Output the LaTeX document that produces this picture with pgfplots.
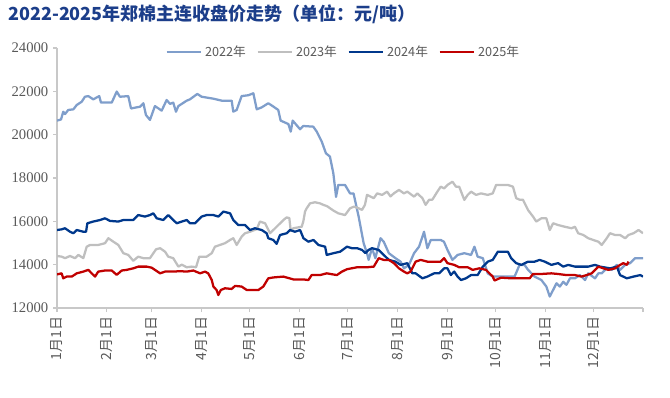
\documentclass[border=0pt]{standalone}
\usepackage{pgfplots}
\pgfplotsset{compat=1.18}
\usepackage{fontspec}
\setmainfont{Liberation Serif}
\newfontfamily\cjk{Noto Sans CJK SC}
\definecolor{c22}{RGB}{127,158,203}
\definecolor{c23}{RGB}{191,191,191}
\definecolor{c24}{RGB}{0,56,140}
\definecolor{c25}{RGB}{192,0,0}
\definecolor{titleblue}{RGB}{28,62,138}
\definecolor{txt}{RGB}{89,89,89}
\definecolor{axl}{RGB}{200,200,200}
\begin{document}
\begin{tikzpicture}
\useasboundingbox (0,0) rectangle (502.5pt,297.75pt);
\node[anchor=west, text=titleblue, font=\cjk\bfseries\fontsize{13.5}{14}\selectfont, inner sep=0pt] at (6pt,287.25pt) {2022-2025年郑棉主连收盘价走势（单位：元/吨）};
\begin{axis}[
  at={(42.75pt,66.75pt)}, anchor=south west,
  width=439.5pt, height=195pt, scale only axis,
  xmin=0, xmax=365, ymin=12000, ymax=24000,
  axis x line*=bottom, axis y line*=left,
  axis line style={draw=axl, line width=0.8pt},
  tick style={draw=axl, line width=0.8pt},
  tick align=outside, major tick length=3pt,
  scaled y ticks=false, scaled x ticks=false,
  xtick={0,31,59,90,120,151,181,212,243,273,304,334,365},
  xticklabels={1月1日,2月1日,3月1日,4月1日,5月1日,6月1日,7月1日,8月1日,9月1日,10月1日,11月1日,12月1日,{}},
  x tick label style={rotate=90, anchor=east, font=\cjk\fontsize{10.5}{11}\selectfont, text=txt},
  ytick={12000,14000,16000,18000,20000,22000,24000},
  yticklabels={12000,14000,16000,18000,20000,22000,24000},
  y tick label style={font=\fontsize{11}{12}\selectfont, text=txt},
  /pgf/number format/assume math mode=true,
  legend columns=4,
  legend style={at={(0.489,0.985)}, anchor=center, draw=none, fill=none,
    font=\cjk\fontsize{9.5}{10}\selectfont, text=txt,
    /tikz/every even column/.append style={column sep=6pt}},
  legend image code/.code={\draw[#1] (0pt,0pt) -- (26pt,0pt);},
  every axis plot/.append style={line width=1.7pt, line join=round, mark=none},
]
\addplot[c22] coordinates {
(0,20650) (2.5,20700) (3.9,21060) (5,20950) (7,21140) (10.2,21170) (12.3,21370) (15.4,21520) (17.4,21750) (19.5,21780)
(22.6,21630) (26.3,21780) (27.4,21480) (34.1,21480) (37.2,21990) (39.2,21750) (44.4,21780) (46.1,21210) (51.7,21290)
(53.8,21450) (55.4,20910) (57.9,20680) (61,21320) (65.2,21110) (68.3,21600) (70.4,21420) (72.4,21480) (74.1,21060)
(75.6,21320) (80.8,21570) (82.8,21630) (87.4,21880) (90.1,21750) (97.4,21660) (102.6,21570) (108.8,21570) (109.8,21060)
(111.9,21140) (115,21780) (119.2,21820) (122.3,21910) (124.4,21170) (127.5,21260) (131.6,21450) (134.7,21300) (137.8,21140)
(139.3,20650) (144.1,20490) (145.6,20140) (146.8,20650) (151.4,20250) (153.4,20400) (159.6,20370) (161.8,20140) (164.9,19680)
(167.5,19140) (170,18990) (172.1,18220) (173.1,17600) (173.8,17130) (175.2,17680) (179.4,17680) (182.5,17290) (184.7,17290)
(187.9,16210) (191,14990) (193.1,14530) (194.1,14220) (196.2,14760) (198.3,14300) (201.5,15220) (203.5,15060) (206.7,14530)
(210.8,14300) (214,14140) (216.1,13830) (219.2,13990) (222.4,14530) (225.5,14830) (227.6,15290) (228.6,15520) (230.7,14760)
(232.8,15140) (239,15140) (241,15060) (243.2,14680) (246.3,14220) (249.5,14450) (253.7,14530) (257.9,14450) (260,14830)
(262,14370) (265.2,14300) (268.3,13600) (271.4,13450) (285,13450) (288.1,13990) (291.2,13990) (293.4,13760) (297.5,13450)
(301.7,13290) (304.8,12990) (306.9,12530) (309,12830) (311.1,13140) (313.2,12990) (315.3,13210) (317.3,13070) (319.5,13370)
(322.6,13370) (325.7,13520) (328.9,13290) (330.9,13600) (335.1,13370) (337.2,13600) (339.3,13600) (342.4,13830) (345.6,13760)
(348.7,13990) (350.7,13760) (353.9,13990) (357,14070) (360.1,14300) (363.3,14300) (365,14300)
};
\addlegendentry{2022年}
\addplot[c23] coordinates {
(0,14400) (2.9,14370) (5,14300) (8.1,14400) (11.2,14300) (13.3,14450) (16.4,14300) (18.5,14830) (20.6,14910) (25.7,14910)
(29.9,14990) (32,15220) (35.1,15060) (38.2,14910) (41.3,14530) (44.4,14450) (47.5,14180) (50.6,14370) (53.8,14300) (57.9,14300)
(61.7,14710) (64.2,14760) (67.3,14600) (69.3,14370) (72.4,14300) (75.6,13910) (77.7,14000) (80.8,13880) (83.9,13910) (86.6,13880)
(88.6,14370) (93.2,14370) (96.4,14530) (98.4,14830) (101.5,14910) (104.6,14990) (107.8,15140) (109.8,15220) (111.9,14910)
(115,15290) (117.1,15450) (120.2,15520) (124.4,15640) (126.4,15990) (129.6,15910) (132.7,15450) (136.8,15750) (141,16060)
(143,16180) (144.7,16150) (145.6,15560) (147.2,15680) (152.4,15750) (153.4,15990) (154.5,16450) (155.5,16600) (157.6,16830)
(160.7,16880) (163.8,16830) (165.9,16760) (168.2,16700) (172.1,16500) (175.2,16370) (179.4,16290) (182.5,16600) (185,16680)
(187.9,16600) (190,16530) (191.8,16760) (193.1,17220) (197.3,17070) (199.4,17290) (202.5,17220) (205.6,17370) (207.7,17150)
(209.8,17290) (213,17450) (216.1,17290) (218.2,17370) (222.4,17140) (224.4,17290) (227.6,17070) (229.6,16760) (231.8,17000)
(233.8,17000) (236.9,17370) (239,17600) (241.1,17520) (243.2,17680) (246.3,17830) (248.5,17600) (250.5,17600) (253.7,16990)
(255.8,17220) (257.9,17370) (261,17220) (264.1,17290) (268.3,17220) (271.4,17290) (273.5,17680) (280.8,17680) (284,17600)
(286,17070) (288.1,17000) (290.2,17000) (293.4,16520) (296.5,16220) (298.5,15990) (301.7,16140) (304.8,16140) (306.9,15600)
(309,15910) (312.1,15830) (316.3,15750) (320.5,15680) (322.6,15750) (324.6,15450) (327.8,15370) (330.9,15220) (334,15140)
(337.2,15060) (339.3,14910) (342.4,15220) (344.4,15450) (347.6,15370) (350.7,15370) (353.9,15220) (355.9,15370) (359.1,15450)
(362.2,15600) (365,15450)
};
\addlegendentry{2023年}
\addplot[c24] coordinates {
(0,15600) (2.9,15630) (5,15680) (8.1,15520) (10.2,15450) (12.3,15600) (16.4,15520) (18.1,15520) (18.9,15910) (22.6,15990)
(26.8,16060) (29.9,16140) (33,16020) (38.2,15990) (41.3,16060) (47.5,16060) (50.6,16290) (54.8,16220) (57.9,16290) (60,16370)
(62.1,16140) (66.2,16060) (69.3,16290) (72.4,16060) (74.6,15910) (77.7,15990) (80.8,16060) (82.8,15910) (86,15910) (90.1,16220)
(93.2,16290) (97.4,16290) (100.5,16220) (103.6,16450) (107.8,16370) (109.8,16060) (112.9,15830) (117.1,15830) (120.2,15600)
(123.3,15680) (127.5,15600) (130.6,15450) (131.6,15220) (134.7,15140) (136.8,14960) (138.9,15370) (143.1,15450) (145.1,15600)
(148.2,15520) (151.4,15600) (153.5,15220) (156.6,15060) (159.7,15140) (162.8,14910) (167,14830) (168,14450) (172.2,14530)
(176.4,14600) (180.6,14830) (183.7,14760) (186.9,14760) (190,14680) (192.1,14530) (194.1,14680) (196.2,14760) (200.4,14680)
(203.5,14450) (206.7,14220) (210.8,14140) (214,13990) (218.2,14070) (221.3,13600) (223.4,13600) (227.6,13370) (230.7,13450)
(234.9,13600) (238,13600) (241.1,13830) (243.2,13830) (245.3,13520) (247.4,13680) (249.5,13450) (251.6,13290) (254.7,13370)
(257.9,13520) (262,13520) (265.2,13910) (268.3,14140) (271.4,14220) (274.6,14600) (280.8,14600) (282.9,14300) (286,14070)
(289.2,13990) (293.4,14140) (297.5,14140) (300.6,14220) (303.8,14140) (307.9,13990) (312.1,14070) (315.3,13910) (318.4,13990)
(322.6,13910) (330.9,13910) (335.1,13990) (338.2,13910) (344.5,13830) (348.7,13910) (350.7,13520) (354.9,13370) (359.1,13450)
(363.3,13520) (365,13450)
};
\addlegendentry{2024年}
\addplot[c25] coordinates {
(0,13550) (2.9,13600) (3.9,13370) (6,13450) (9.2,13450) (12.3,13600) (16.4,13680) (19.5,13760) (21.6,13600) (23.7,13450)
(25.7,13680) (29.9,13730) (34.1,13730) (37.2,13530) (40.3,13730) (43.4,13760) (47.5,13830) (50.6,13910) (55.9,13910)
(59,13860) (61,13760) (64.2,13600) (67.3,13680) (72.4,13680) (76.6,13700) (80.8,13680) (84.9,13730) (89.1,13600) (92.2,13680)
(94.2,13600) (96.4,13290) (97.4,12990) (99.4,12830) (100.5,12600) (102,12830) (104.6,12910) (108.8,12880) (110.9,13020)
(115,12990) (118.2,12830) (125.4,12830) (128.5,12990) (131.6,13370) (134.7,13410) (141,13450) (147.2,13320) (153.4,13320)
(156.6,13290) (158.6,13520) (163.8,13520) (168,13600) (174.3,13520) (177.5,13680) (180.6,13790) (186.9,13880) (193.1,13880)
(197.3,13910) (200.4,14300) (203.5,14220) (206.7,14220) (209.8,14070) (213,13830) (216.1,13680) (218.2,13600) (220.2,13680)
(223.4,14140) (226.5,14220) (230.7,14140) (239,14140) (241.1,14300) (243.2,14070) (247.4,13990) (250.5,13880) (255.8,13880)
(258.9,13760) (263,13830) (267.2,13760) (271.4,13450) (272.5,13270) (276.6,13400) (282.9,13370) (294.4,13370) (296.5,13570)
(301.7,13570) (307.9,13600) (312.1,13570) (317.3,13520) (322.6,13520) (326.7,13450) (329.9,13520) (333,13600) (337.2,13910)
(340.3,13830) (343.4,13760) (347.6,13830) (350.7,13990) (352.8,14070) (354.9,13990) (356,14140)
};
\addlegendentry{2025年}
\end{axis}
\end{tikzpicture}
\end{document}
